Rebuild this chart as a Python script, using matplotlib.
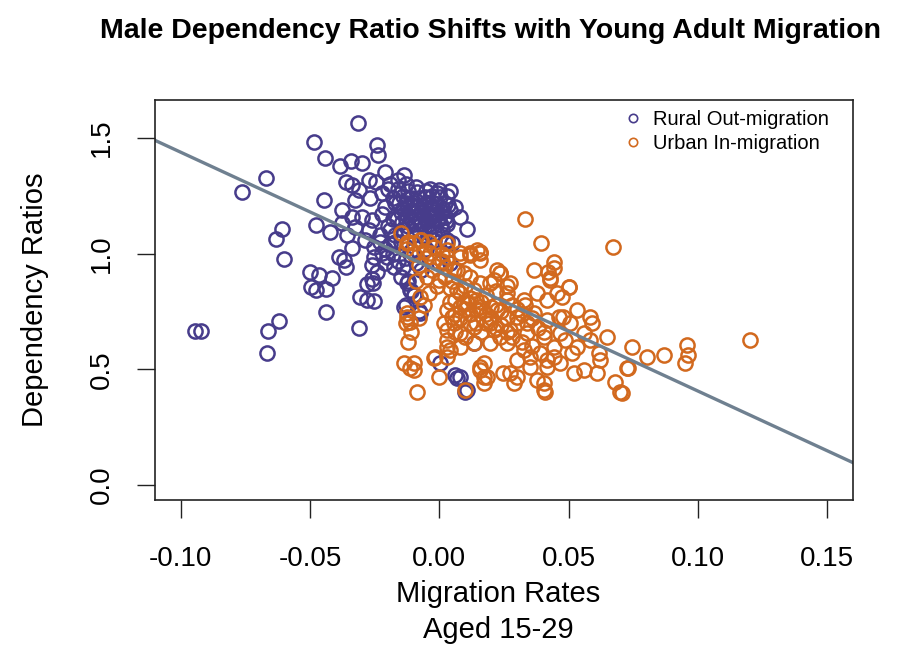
import numpy as np
import matplotlib
matplotlib.use("Agg")
import matplotlib.pyplot as plt
from matplotlib.lines import Line2D

plt.rcParams["font.family"] = ["Liberation Sans", "DejaVu Sans"]
plt.rcParams["axes.unicode_minus"] = False

# rural out-migration: (migration rate, dependency ratio)
rural = np.array([
    (-0.0314, 1.563), (-0.0484, 1.481), (-0.0443, 1.412), (-0.0385, 1.380),
    (-0.034, 1.400), (-0.030, 1.390), (-0.024, 1.469), (-0.0237, 1.426),
    (-0.067, 1.325), (-0.0764, 1.268), (-0.0447, 1.232), (-0.061, 1.105),
    (-0.0631, 1.062), (-0.060, 0.975), (-0.0476, 1.124), (-0.0425, 1.095),
    (-0.039, 0.987), (-0.037, 0.972), (-0.0363, 0.943), (-0.0502, 0.922),
    (-0.0466, 0.907), (-0.0415, 0.893), (-0.0498, 0.857), (-0.0479, 0.843),
    (-0.0438, 0.846), (-0.0438, 0.746), (-0.0306, 0.814), (-0.0251, 0.797),
    (-0.0256, 0.874), (-0.0309, 0.677), (-0.0945, 0.665), (-0.0923, 0.665),
    (-0.0621, 0.710), (-0.0662, 0.665), (-0.0666, 0.569),
    (-0.0363, 1.311), (-0.0337, 1.296), (-0.031, 1.275), (-0.0273, 1.318),
    (-0.0247, 1.311), (-0.0267, 1.239), (-0.0325, 1.232), (-0.0376, 1.188),
    (-0.0337, 1.159), (-0.0299, 1.159), (-0.026, 1.145), (-0.0376, 1.131),
    (-0.0325, 1.116), (-0.0273, 1.102), (-0.0357, 1.080), (-0.0286, 1.059),
    (-0.0337, 1.023), (-0.0254, 1.030), (-0.0221, 1.001), (-0.026, 0.951),
    (-0.0254, 0.987), (-0.0138, 1.34), (-0.0209, 1.354), (0.0, 1.275),
    (0.0004, 1.246), (0.0107, 1.105),
    (-0.020, 1.28), (-0.018, 1.24), (-0.022, 1.17), (-0.019, 1.10),
    (-0.023, 1.08), (-0.017, 1.05), (-0.021, 1.02),
    (-0.016, 1.28), (-0.014, 1.25), (-0.012, 1.27), (-0.010, 1.22),
    (-0.008, 1.24), (-0.006, 1.20), (-0.004, 1.22), (-0.002, 1.18),
    (0.000, 1.20), (0.002, 1.16), (0.003, 1.13), (-0.015, 1.18),
    (-0.013, 1.15), (-0.011, 1.19), (-0.009, 1.16), (-0.007, 1.13),
    (-0.005, 1.15), (-0.003, 1.12), (-0.001, 1.14), (0.001, 1.10),
    (-0.014, 1.10), (-0.012, 1.12), (-0.010, 1.08), (-0.008, 1.10),
    (-0.006, 1.07), (-0.004, 1.09), (-0.002, 1.06), (-0.017, 1.22),
    (-0.018, 1.15), (-0.019, 1.30), (-0.016, 1.32), (-0.013, 1.30),
    (-0.009, 1.29), (-0.005, 1.27), (-0.003, 1.25), (-0.001, 1.26),
    (0.002, 1.22), (0.004, 1.19), (0.003, 1.25), (-0.011, 1.24),
    (-0.007, 1.18), (-0.012, 1.20), (-0.008, 1.14), (-0.004, 1.17),
    (0.000, 1.15), (-0.006, 1.11), (-0.010, 1.13), (-0.015, 1.05),
    (-0.017, 1.08), (-0.020, 1.12), (-0.021, 1.20), (-0.022, 1.26),
    (-0.019, 1.04), (-0.002, 1.09), (0.001, 1.18), (-0.003, 1.20),
    (-0.009, 1.20), (-0.013, 1.22),
    (-0.0095, 1.175), (-0.0065, 1.165), (-0.0035, 1.155), (-0.0015, 1.165),
    (-0.0085, 1.205), (-0.0055, 1.215), (-0.0025, 1.195), (0.0005, 1.125),
    (-0.0105, 1.145), (-0.0075, 1.145), (-0.0045, 1.125), (-0.0125, 1.165),
    (-0.0115, 1.215), (-0.0135, 1.195), (-0.0145, 1.135), (-0.0015, 1.215),
    (0.0015, 1.195), (0.0025, 1.14), (-0.0055, 1.245), (-0.0085, 1.265),
    (-0.0155, 1.22), (-0.0165, 1.15), (-0.0035, 1.28), (0.0035, 1.21),
    (-0.018, 1.00), (-0.016, 0.97), (-0.014, 0.94), (-0.013, 0.98),
    (-0.011, 1.01), (-0.009, 0.96), (-0.015, 0.90), (-0.012, 0.88),
    (-0.011, 0.84), (-0.010, 0.82), (-0.013, 0.78), (-0.008, 0.75),
    (-0.007, 0.93), (-0.005, 1.02), (-0.021, 0.96), (-0.024, 0.92),
    (-0.026, 0.89), (-0.023, 1.05), (-0.028, 0.80), (-0.028, 0.87),
    (0.004, 1.27), (0.006, 1.20), (0.008, 1.16), (0.002, 1.05),
    (0.0049, 1.045), (0.0043, 0.958),
    (-0.0202, 0.987), (-0.0177, 0.943), (-0.0125, 0.872), (-0.0112, 0.843),
    (-0.0099, 0.821), (-0.0138, 0.771), (-0.0073, 0.742), (0.0030, 1.059),
    (0.0, 0.958),
    (0.0004, 0.526), (0.0062, 0.475), (0.0068, 0.461), (0.010, 0.403),
    (0.0133, 0.612), (0.0081, 0.468), (0.0107, 0.411),
])

# urban in-migration
urban = np.array([
    (-0.015, 1.088), (-0.0125, 1.045), (-0.0073, 1.059), (-0.0022, 1.030),
    (0.003, 1.045), (0.0081, 1.001), (0.012, 1.001), (0.0158, 1.001),
    (0.0223, 0.929), (0.0332, 1.148), (0.0393, 1.047), (0.0365, 0.929),
    (0.0442, 0.965), (0.050, 0.857), (0.0422, 0.922), (0.0671, 1.028),
    (0.0442, 0.936), (0.0429, 0.893), (0.050, 0.854), (0.0474, 0.814),
    (0.0416, 0.80), (0.0532, 0.756), (0.0583, 0.727), (0.059, 0.699),
    (0.0648, 0.641), (0.0583, 0.627), (0.0616, 0.569), (0.0622, 0.540),
    (0.0745, 0.598), (0.0803, 0.554), (0.0867, 0.562), (0.0725, 0.504),
    (0.0609, 0.483), (0.068, 0.446), (0.070, 0.403), (0.0519, 0.483),
    (0.0558, 0.497), (0.0468, 0.526), (0.0532, 0.598), (0.0513, 0.569),
    (0.0487, 0.627), (0.0442, 0.598), (0.0416, 0.540), (0.0403, 0.440),
    (0.041, 0.403), (0.0558, 0.656), (0.0506, 0.699), (0.0461, 0.727),
    (0.0403, 0.663), (0.0957, 0.605), (0.0963, 0.562), (0.095, 0.526),
    (0.120, 0.627), (0.0728, 0.504), (0.0706, 0.396),
    (-0.0138, 0.526), (-0.0112, 0.504), (-0.0099, 0.526), (-0.0086, 0.400),
    (-0.0015, 0.554), (0.0, 0.468), (0.0158, 0.497), (0.0171, 0.526),
    (0.0184, 0.468), (0.0248, 0.483), (0.003, 0.627), (0.0043, 0.583),
    (0.0081, 0.598), (0.003, 0.670), (0.0081, 0.656), (-0.0125, 0.727),
    (-0.0073, 0.814), (-0.0048, 0.900), (-0.0099, 1.045), (-0.0035, 1.001),
    (0.003, 0.987), (0.0081, 0.987), (0.0146, 1.016), (0.0158, 0.972),
    (0.0094, 0.915), (0.0, 0.886), (0.0068, 0.843), (0.0158, 0.872),
    (0.021, 0.886), (0.0236, 0.915), (0.0262, 0.828), (0.0107, 0.785),
    (0.0158, 0.756), (0.0197, 0.699), (0.0236, 0.641), (0.012, 0.699),
    (0.0049, 0.727),
    (0.0158, 1.008), (0.012, 0.994), (0.0236, 0.915), (0.0274, 0.872),
    (0.0197, 0.872), (0.0429, 0.886), (0.0377, 0.828), (0.0455, 0.828),
    (0.0326, 0.80), (0.0262, 0.80), (0.0133, 0.843), (0.0081, 0.828),
    (0.048, 0.727), (0.0416, 0.713), (0.0365, 0.742), (0.030, 0.727),
    (0.0223, 0.756), (0.0158, 0.771), (0.0094, 0.785), (0.003, 0.756),
    (0.0055, 0.699), (0.0133, 0.684), (0.021, 0.670), (0.0274, 0.670),
    (0.0339, 0.656), (0.0403, 0.641), (0.0468, 0.656), (0.0262, 0.612),
    (0.0326, 0.583), (0.039, 0.569), (0.0442, 0.554), (0.030, 0.540),
    (0.0352, 0.511), (0.0416, 0.511), (0.0158, 0.511), (0.0171, 0.468),
    (0.0274, 0.483), (0.0287, 0.440), (0.0377, 0.454), (0.0403, 0.411),
    (0.010, 0.411), (0.003, 0.598), (0.003, 0.554), (0.0133, 0.612),
    (0.0197, 0.612), (0.012, 0.900), (0.0055, 0.929), (0.003, 1.016),
    (-0.013, 0.70), (-0.011, 0.66), (-0.008, 0.72), (-0.012, 0.62),
    (-0.006, 0.78), (-0.0125, 0.742), (-0.0112, 0.706),
    (-0.012, 1.05), (-0.007, 1.06), (-0.002, 1.03), (-0.010, 1.00),
    (-0.005, 0.98), (0.001, 0.97), (-0.013, 1.02), (-0.008, 0.95),
    (-0.003, 0.93), (0.002, 0.90), (-0.001, 0.86), (-0.004, 0.83),
    (-0.009, 0.88),
    (-0.0099, 0.497), (-0.0022, 0.548), (0.0017, 0.699), (0.0171, 0.44),
    (0.030, 0.468), (0.0352, 0.554),
    (0.006, 0.80), (0.010, 0.76), (0.014, 0.80), (0.018, 0.74),
    (0.022, 0.78), (0.026, 0.72), (0.030, 0.76), (0.034, 0.70),
    (0.038, 0.68), (0.008, 0.72), (0.012, 0.74), (0.016, 0.66),
    (0.020, 0.72), (0.024, 0.69), (0.028, 0.64), (0.032, 0.62),
    (0.036, 0.60), (0.018, 0.82), (0.022, 0.84), (0.026, 0.86),
    (0.014, 0.70), (0.010, 0.64), (0.006, 0.66), (0.033, 0.78),
    (0.008, 0.77), (0.012, 0.81), (0.016, 0.79), (0.020, 0.77),
    (0.024, 0.75), (0.028, 0.78), (0.032, 0.74), (0.036, 0.72),
    (0.004, 0.79), (0.010, 0.86), (0.018, 0.70), (0.022, 0.68),
    (0.026, 0.66), (0.030, 0.70), (0.014, 0.76), (0.006, 0.74),
    (-0.002, 0.97), (0.002, 0.94), (0.005, 0.88), (-0.006, 1.01),
    (0.001, 1.00), (-0.004, 1.05), (0.007, 0.93), (0.004, 0.85),
])

# fitted regression line
fit_intercept = 0.922
fit_slope = -5.16

x_ticks = [-0.10, -0.05, 0.00, 0.05, 0.10, 0.15]
y_ticks = [0.0, 0.5, 1.0, 1.5]

blue = "#473C8B"
orange = "#D2691E"
line_col = "#6F8090"

fig = plt.figure(figsize=(9.14, 6.46), dpi=100)
ax = fig.add_axes([155 / 914, 1 - 500 / 646, 698 / 914, 400 / 646])

ax.plot(rural[:, 0], rural[:, 1], "o", ms=10.2, mfc="none", mec=blue, mew=1.8)
ax.plot(urban[:, 0], urban[:, 1], "o", ms=10.2, mfc="none", mec=orange, mew=1.8)
ax.axline((0, fit_intercept), slope=fit_slope, color=line_col, lw=2.4)

ax.set_xlim(-0.11, 0.16)
ax.set_ylim(-0.065, 1.664)
ax.set_xticks(x_ticks)
ax.set_xticklabels([f"{v:.2f}" for v in x_ticks])
ax.set_yticks(y_ticks)
ax.set_yticklabels([f"{v:.1f}" for v in y_ticks], rotation=90, va="center")
ax.tick_params(axis="both", length=13, width=1.0, labelsize=20, color="#222222")
ax.tick_params(axis="x", pad=20)
ax.tick_params(axis="y", pad=16)
for s in ax.spines.values():
    s.set_linewidth(1.2)
    s.set_color("#222222")

handles = [
    Line2D([], [], ls="none", marker="o", ms=6, mfc="none", mec=blue, mew=1.2),
    Line2D([], [], ls="none", marker="o", ms=6, mfc="none", mec=orange, mew=1.2),
]
ax.legend(handles, ["Rural Out-migration", "Urban In-migration"],
          loc="upper left", bbox_to_anchor=(0.665, 0.995), frameon=False,
          fontsize=14.5, handlelength=0.6, handletextpad=0.7, labelspacing=0.25,
          borderaxespad=0)

fig.text(490 / 914, 1 - 31 / 646, "Male Dependency Ratio Shifts with Young Adult Migration",
         ha="center", va="center", fontsize=20.5, fontweight="bold")
fig.text(498 / 914, 1 - 594 / 646, "Migration Rates", ha="center", va="center", fontsize=21)
fig.text(498 / 914, 1 - 630 / 646, "Aged 15-29", ha="center", va="center", fontsize=21)
fig.text(35 / 914, 1 - 300 / 646, "Dependency Ratios", ha="center", va="center",
         rotation=90, fontsize=21)

fig.savefig("out.png", dpi=100)
